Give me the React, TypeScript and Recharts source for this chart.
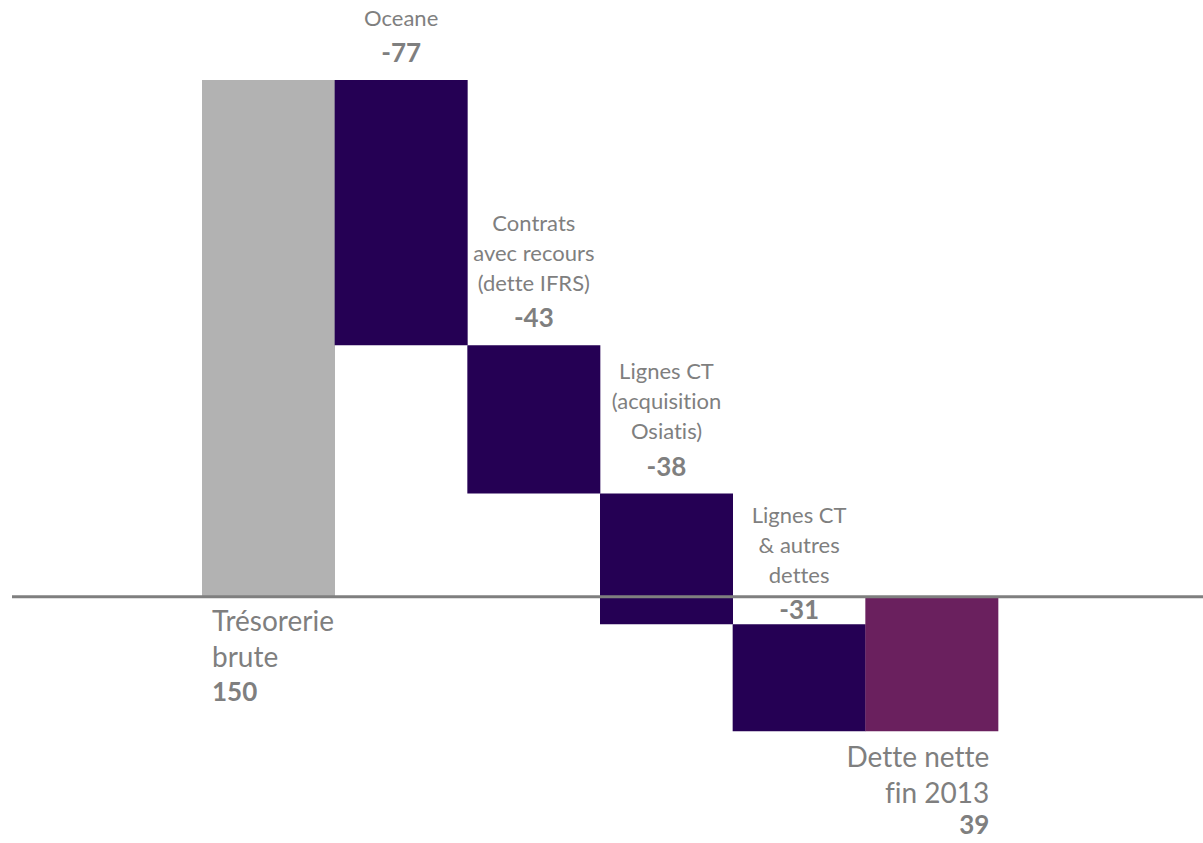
import React from 'react';
import { BarChart, Bar, XAxis, YAxis, Cell, ReferenceLine, LabelList } from 'recharts';

// waterfall: first and last are totals, the rest are decrements
const categories = ['Trésorerie brute', 'Oceane', 'Contrats avec recours', 'Lignes CT acquisition', 'Lignes CT autres', 'Dette nette'];
const kinds = ['total', 'step', 'step', 'step', 'step', 'total'];
const steps = [150, -77, -43, -38, -31, -39];
const valueLabels = ['150', '-77', '-43', '-38', '-31', '39'];
const labelLines = [
  ['Trésorerie', 'brute'],
  ['Oceane'],
  ['Contrats', 'avec recours', '(dette IFRS)'],
  ['Lignes CT', '(acquisition', 'Osiatis)'],
  ['Lignes CT', '& autres', 'dettes'],
  ['Dette nette', 'fin 2013'],
];
const colors = ['#b2b2b2', '#250054', '#250054', '#250054', '#250054', '#6a205e'];

// build [low, high] ranges for the floating bars
let running = 0;
const data = categories.map((name, i) => {
  let range: [number, number];
  if (i === 0) {
    running = steps[i];
    range = [0, running];
  } else if (kinds[i] === 'total') {
    range = [Math.min(0, running), Math.max(0, running)];
  } else {
    const next = running + steps[i];
    range = [Math.min(next, running), Math.max(next, running)];
    running = next;
  }
  return { name, range };
});

const FONT = 'Lato, "Open Sans", sans-serif';
const TEXT = '#7f7f7f';
// the last decrement label sits a bit lower in the original
const labelShift = [0, 0, 0, 0, 13, 0];

const renderLabel = (props: any) => {
  const { x, y, width, height, index } = props;
  const top = Math.min(y, y + height);
  const bottom = Math.max(y, y + height);
  const lines = labelLines[index];

  if (kinds[index] === 'step') {
    const cx = x + width / 2;
    const valueY = top - 27 + labelShift[index];
    return (
      <g key={`lbl-${index}`} fontFamily={FONT} style={{ fontVariantLigatures: 'none' }}>
        {lines.map((t, i) => (
          <text key={i} x={cx} y={valueY - 35 - 30 * (lines.length - 1 - i)} dy="0.35em" textAnchor="middle" fontSize={22} fill={TEXT}>
            {t}
          </text>
        ))}
        <text x={cx} y={valueY} dy="0.35em" textAnchor="middle" fontSize={26} fontWeight="bold" fill={TEXT}>
          {valueLabels[index]}
        </text>
      </g>
    );
  }

  const isFirst = index === 0;
  const tx = isFirst ? x + 10 : x + width - 9;
  const anchor = isFirst ? 'start' : 'end';
  const y0 = isFirst ? bottom + 24 : bottom + 26;
  return (
    <g key={`lbl-${index}`} fontFamily={FONT} style={{ fontVariantLigatures: 'none' }}>
      {lines.map((t, i) => (
        <text key={i} x={tx} y={y0 + 36 * i} dy="0.35em" textAnchor={anchor} fontSize={28} fill={TEXT}>
          {t}
        </text>
      ))}
      <text x={tx} y={y0 + 36 * lines.length - (isFirst ? 1 : 4)} dy="0.35em" textAnchor={anchor} fontSize={26} fontWeight="bold" fill={TEXT}>
        {valueLabels[index]}
      </text>
    </g>
  );
};

export default function App() {
  return (
    <div style={{ width: 1203, height: 843, background: '#fff' }}>
      <style>{'body { margin: 0; }'}</style>
      <BarChart
        width={1203}
        height={843}
        data={data}
        margin={{ top: 11, right: 0, bottom: 5, left: 12 }}
        barCategoryGap={0}
        barGap={0}
      >
        <XAxis dataKey="name" hide padding={{ left: 190, right: 205 }} />
        <YAxis hide domain={[-70, 170]} />
        <Bar dataKey="range" isAnimationActive={false}>
          {data.map((d, i) => (
            <Cell key={d.name} fill={colors[i]} />
          ))}
          <LabelList dataKey="range" content={renderLabel} />
        </Bar>
        <ReferenceLine y={0} stroke="#7f7f7f" strokeWidth={3} />
      </BarChart>
    </div>
  );
}
